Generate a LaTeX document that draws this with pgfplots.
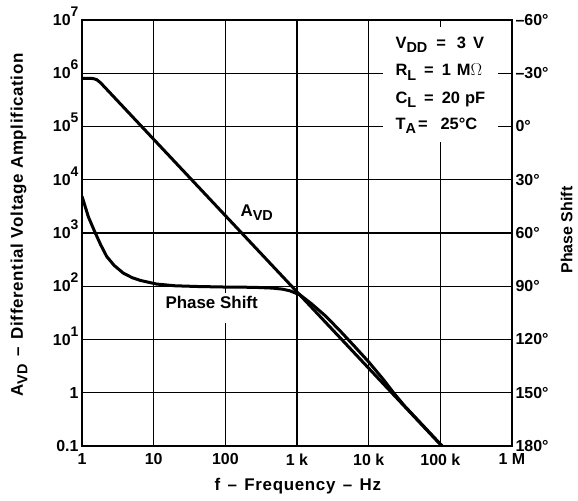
\documentclass[border=0pt]{standalone}
\usepackage{fontspec}
\setmainfont{Liberation Sans}
\newfontfamily\labfont[LetterSpace=4,Ligatures=TeX]{Liberation Sans}
\usepackage{pgfplots}
\pgfplotsset{compat=1.18}
\newcommand\tp[1]{10\raisebox{9bp}{\fontsize{14}{14}\selectfont #1}}
\newcommand\sub[1]{\raisebox{-4.5bp}{\fontsize{14.5}{14.5}\selectfont #1}}
\newcommand\lab{\fontsize{17}{20}\selectfont\bfseries}
\newcommand\rlab{\fontsize{16}{19}\selectfont\bfseries}
\newcommand\alab{\fontsize{17}{20}\labfont\bfseries}
\newcommand\clab{\fontsize{16.5}{20}\selectfont\bfseries}
\newcommand\dash{\ \kern2bp\textendash\kern2bp\ }
\begin{document}
\begin{tikzpicture}
\begin{axis}[
  name=ax,
  scale only axis, width=430bp, height=426bp,
  xmode=log, ymode=log,
  xmin=1, xmax=1e6, ymin=0.1, ymax=1e7,
  xtick={1,10,100,1000,10000,100000,1000000},
  xticklabels={1,10,100,1 k,10 k,100 k,1 M},
  ytick={0.1,1,10,100,1000,10000,100000,1000000,10000000},
  yticklabels={0.1,1,\tp{1},\tp{2},\tp{3},\tp{4},\tp{5},\tp{6},\tp{7}},
  xminorticks=false, yminorticks=false,
  major tick length=0pt,
  grid=major,
  grid style={line width=1.2bp, black},
  axis line style={line width=2bp},
  tick label style={font=\fontsize{16}{18}\selectfont\bfseries},
  yticklabel style={anchor=base east, yshift=-5.5bp},
  xticklabel style={yshift=-4bp},
  xlabel={f\dash Frequency\dash Hz},
  xlabel style={at={(axis description cs:0.502,-0.094)}, anchor=center, font=\alab},
  ylabel={A\sub{VD}\dash Differential Voltage Amplification},
  ylabel style={at={(axis description cs:-0.1465,0.519)}, anchor=center, font=\alab},
  clip=true,
]
\coordinate (BL) at (rel axis cs:0,0);
\fill[white] (rel axis cs:0.700,0.714) rectangle (rel axis cs:0.967,0.984);
\fill[white] (rel axis cs:0.177,0.289) rectangle (rel axis cs:0.419,0.359);
% A_VD
\addplot[black, line width=3bp, line join=round] coordinates {
 (1,8.05e5) (1.3,8.05e5) (1.45,7.9e5) (1.6,7.6e5) (1.8,6.7e5) (2,5.77e5)
 (10,5.75e4) (100,2123) (1000,78.3) (10000,2.89) (100000,0.1067) (110000,0.0929)
};
% Phase shift
\addplot[black, line width=3bp, line join=round] coordinates {
 (1,4900) (1.23,1995) (1.51,1047) (1.82,603) (2.21,363) (2.82,245) (3.78,176)
 (5.01,145) (6.46,129) (10.96,110) (20,102) (40,99) (100,96.6) (251,95.5)
 (457,92.3) (631,88.1) (794,82.2) (1096,69.2) (1585,47.2) (2512,27.5)
 (3981,14.6) (6310,7.5) (10000,3.8) (15849,1.81) (22387,0.99)
 (31623,0.5675) (112202,0.0925)
};
\node[anchor=base west, font=\lab] at (axis cs:145.5,2085) {A\sub{VD}};
\node[anchor=base west, font=\lab] at (axis cs:13.07,37.4) {Phase Shift};
\node[anchor=base west, font=\clab] at (rel axis cs:0.721,0.934) {V\sub{DD}\hspace{9bp}=\hspace{11bp}3\hspace{7bp}V};
\node[anchor=base west, font=\clab] at (rel axis cs:0.721,0.869) {R\sub{L}\hspace{8bp}=\hspace{8bp}1\hspace{6bp}M$\Omega$};
\node[anchor=base west, font=\clab] at (rel axis cs:0.721,0.805) {C\sub{L}\hspace{8bp}=\hspace{8bp}20\hspace{5bp}pF};
\node[anchor=base west, font=\clab] at (rel axis cs:0.721,0.744) {T\sub{A}\hspace{2bp}=\hspace{13bp}25°C};
\end{axis}
\begin{axis}[
  scale only axis, width=430bp, height=426bp,
  xmode=log, xmin=1, xmax=1e6, hide x axis,
  ymin=-60, ymax=180, y dir=reverse,
  axis y line*=right, axis line style={draw=none},
  ytick={-60,-30,0,30,60,90,120,150,180},
  yticklabels={\textendash60°,\textendash30°,0°,30°,60°,90°,120°,150°,180°},
  major tick length=0pt,
  tick label style={font=\fontsize{16}{18}\selectfont\bfseries},
  ylabel={Phase Shift},
  ylabel style={at={(axis description cs:1.1405,0.507)}, anchor=base, inner sep=0pt, font=\rlab},
]
\end{axis}
\pgfresetboundingbox
\path (BL) ++(-82bp,-55bp) rectangle ++(578bp,501bp);
\end{tikzpicture}
\end{document}
